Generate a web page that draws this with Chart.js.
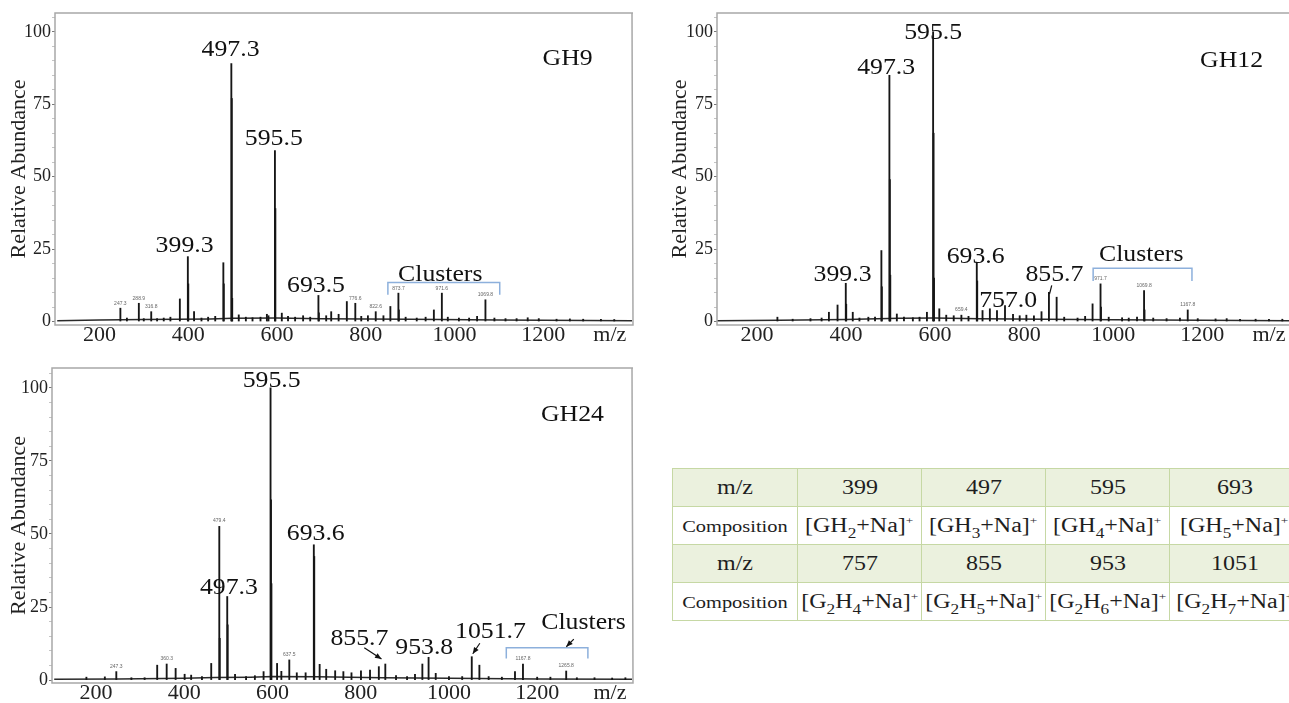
<!DOCTYPE html>
<html>
<head>
<meta charset="utf-8">
<script src="https://cdn.jsdelivr.net/npm/chart.js@4.4.1/dist/chart.umd.min.js"></script>
<style>
  html, body { margin: 0; padding: 0; background: #fff; width: 1289px; height: 703px; overflow: hidden; position: relative; }
  canvas { position: absolute; }
  #gh9  { left: 0; top: 0; }
  #gh12 { left: 661px; top: 0; }
  #gh24 { left: 0; top: 355px; }
  #comp { position: absolute; left: 672px; top: 468px; width: 627px; border-collapse: collapse; table-layout: fixed;
          font-family: 'Liberation Serif', 'Times New Roman', serif; color: #1e1e1e; }
  #comp td { border: 1.5px solid #c6d8a4; height: 37px; padding: 0; text-align: center; font-size: 20px;
             white-space: nowrap; }
  #comp tr.mz td { background: #ebf1de; }
  #comp td span { display: inline-block; transform: scaleX(1.2); }
  #comp td.lab.small span { font-size: 17px; }
  #comp sub { font-size: 0.72em; vertical-align: -0.4em; line-height: 0; }
  #comp sup { font-size: 0.55em; vertical-align: 0.75em; line-height: 0; }
</style>
</head>
<body>
<canvas id="gh9" width="640" height="349"></canvas>
<canvas id="gh12" width="628" height="349"></canvas>
<canvas id="gh24" width="640" height="350"></canvas>
<table id="comp"></table>

<script>
// ------------------------------------------------------------
// data (m/z, relative abundance)
// ------------------------------------------------------------
const X_TICKS = [200, 400, 600, 800, 1000, 1200];
const Y_TICKS = [0, 25, 50, 75, 100];

// GH9
const GH9_MZ = [247.3, 262, 288.9, 300, 316.8, 330, 345, 360, 381.3, 399.3, 400.3, 413.3, 430, 445, 461,
  479.3, 480.3, 497.3, 498.3, 499.3, 514, 530, 545, 563, 577.4, 581, 595.5, 596.5, 611, 625, 641, 659, 675,
  693.5, 694.5, 711, 722.3, 739, 757.5, 776.6, 790, 805, 822.6, 840, 855.6, 873.7, 874.7, 890, 915, 935,
  953.6, 971.6, 985, 1010, 1033, 1051, 1069.8, 1090, 1115, 1140, 1165, 1190, 1230, 1260, 1290, 1330, 1360];
const GH9_INT = [4.6, 1.2, 6.3, 1.0, 3.4, 1.0, 1.2, 1.5, 7.8, 22.4, 13, 3.4, 1.2, 1.5, 1.8,
  20.3, 13, 89, 77, 8, 2.3, 1.5, 1.3, 1.5, 2.5, 2, 59, 39, 2.9, 1.8, 1.5, 2, 1.5,
  9.0, 3, 2, 3.4, 2.5, 6.9, 6.3, 1.8, 2, 3.4, 2, 5.2, 9.8, 4, 1.5, 1.2, 1.5,
  4.0, 9.8, 1.5, 1.2, 1.2, 1.8, 7.5, 1.2, 1, 1, 1.3, 1, 0.8, 0.9, 0.8, 0.8, 0.7];
const GH9_BASE_MZ = [105, 200, 300, 450, 500, 600, 700, 900, 1100, 1400];
const GH9_BASE_INT = [0.3, 0.5, 0.7, 0.9, 1.1, 1.2, 1.0, 0.8, 0.5, 0.3];

// GH12
const GH12_MZ = [245.7, 280, 320, 345, 361.4, 380.8, 399.3, 400.3, 415, 430, 450, 465, 479.3, 480.3,
  497.3, 498.3, 499.3, 514, 530, 550, 565, 581.6, 595.5, 596.5, 597.5, 609.4, 625, 641.8, 659, 675,
  693.6, 694.6, 706.5, 723, 739, 757.0, 775, 790, 805, 822, 839, 855.7, 873, 890, 920, 937, 953.7,
  971.6, 972.6, 990, 1020, 1035, 1053.6, 1069.4, 1070.4, 1090, 1120, 1150, 1167.5, 1190, 1230, 1255,
  1285, 1320, 1350, 1380];
const GH12_INT = [1.5, 0.8, 1, 1.2, 3.2, 5.7, 13.2, 6, 3.2, 1.2, 1.5, 1.5, 24.5, 12,
  85, 49, 16, 2.6, 1.5, 1.3, 1.5, 3.2, 100, 65, 15, 4.4, 2.2, 2, 2.2, 1.8,
  20.4, 14, 3.8, 4.4, 3.8, 5.5, 2.5, 2, 2.2, 2, 3.4, 10.1, 8.4, 1.5, 1.2, 1.8, 6.1,
  13, 5, 1.5, 1.3, 1.2, 1.5, 10.7, 4, 1.2, 1.0, 1.2, 4.0, 1.0, 0.9, 1.0,
  0.8, 0.8, 0.8, 0.8];
const GH12_BASE_MZ = [110, 250, 400, 470, 520, 600, 700, 850, 1000, 1200, 1395];
const GH12_BASE_INT = [0.3, 0.4, 0.7, 1.0, 1.1, 1.2, 1.0, 0.8, 0.6, 0.4, 0.3];

// GH24
const GH24_MZ = [178, 219.8, 245.8, 280, 310, 338.5, 360, 380.3, 400.7, 415.5, 440, 461, 479.3, 480.3,
  497.3, 498.3, 515, 540, 560, 579.7, 595.5, 596.5, 597.5, 610.3, 620, 638, 655, 675, 693.6, 694.6,
  706.8, 721.7, 742, 760.6, 779, 800.5, 821, 841, 855.7, 880, 905, 923, 939.7, 953.8, 970, 1000, 1030,
  1051.7, 1069, 1090, 1120, 1149.7, 1167.8, 1200, 1230, 1265.8, 1290, 1330, 1370, 1400];
const GH24_INT = [1, 1.1, 2.9, 0.8, 0.8, 5.1, 5.5, 4, 2, 1.7, 1.2, 5.7, 52.6, 14.3,
  28.6, 18.9, 2, 1.2, 1.5, 2.9, 100, 61.7, 33, 5.7, 3, 6.9, 2.5, 2.5, 46.3, 42.3,
  5.4, 3.7, 3.2, 2.9, 2.5, 3.2, 3.4, 4.6, 5.5, 1.5, 1.2, 2, 5.5, 7.8, 2.3, 1.2, 1.2,
  8.0, 5.1, 1.2, 1.0, 2.9, 5.5, 1.0, 1.0, 3.1, 0.8, 0.8, 0.7, 0.8];
const GH24_BASE_MZ = [105, 250, 400, 470, 550, 600, 700, 850, 1000, 1200, 1415];
const GH24_BASE_INT = [0.3, 0.4, 0.6, 0.9, 1.0, 1.2, 1.1, 0.8, 0.6, 0.4, 0.3];

// table of assignments
const TABLE_MZ_1 = [399, 497, 595, 693];
const TABLE_COMP_1 = ['GH2', 'GH3', 'GH4', 'GH5'];
const TABLE_MZ_2 = [757, 855, 953, 1051];
const TABLE_COMP_2 = ['G2H4', 'G2H5', 'G2H6', 'G2H7'];

// ------------------------------------------------------------
// plugin: frame, peak labels, brackets and arrows
// ------------------------------------------------------------
const SERIF = "'Liberation Serif', 'Times New Roman', serif";
Chart.defaults.font.family = SERIF;
Chart.defaults.color = '#222';

const spectrumDecor = {
  id: 'spectrumDecor',
  afterDatasetsDraw(chart, args, o) {
    const { ctx, chartArea: a, scales: { x, y } } = chart;
    const px = v => x.getPixelForValue(v);
    const py = v => y.getPixelForValue(v);
    ctx.save();

    // frame (panel at the page edge has its right side cut off)
    ctx.strokeStyle = '#a8a8a8';
    ctx.lineWidth = 1.5;
    ctx.beginPath();
    ctx.moveTo(a.right + 1, a.top);
    ctx.lineTo(a.left, a.top);
    ctx.lineTo(a.left, a.bottom);
    ctx.lineTo(a.right + 1, a.bottom);
    if (!o.openRight) ctx.lineTo(a.right, a.top);
    ctx.stroke();

    ctx.textAlign = 'center';
    ctx.textBaseline = 'middle';
    ctx.fillStyle = '#666';
    ctx.font = "5px 'Liberation Sans'";
    (o.tiny || []).forEach(t => ctx.fillText(t[0], px(t[1]), py(t[2])));

    ctx.fillStyle = '#111';
    ctx.font = '23px ' + SERIF;
    (o.labels || []).forEach(t => {
      ctx.save();
      ctx.translate(px(t[1]), py(t[2]));
      ctx.scale(1.12, 1);
      ctx.fillText(t[0], 0, 0);
      ctx.restore();
    });

    ctx.strokeStyle = '#8db0dc';
    ctx.lineWidth = 1.5;
    (o.brackets || []).forEach(b => {
      ctx.beginPath();
      ctx.moveTo(px(b[0]), py(b[3]));
      ctx.lineTo(px(b[0]), py(b[2]));
      ctx.lineTo(px(b[1]), py(b[2]));
      ctx.lineTo(px(b[1]), py(b[3]));
      ctx.stroke();
    });

    ctx.strokeStyle = '#111';
    ctx.fillStyle = '#111';
    ctx.lineWidth = 1.2;
    (o.arrows || []).forEach(r => {
      const x1 = px(r[0]), y1 = py(r[1]), x2 = px(r[2]), y2 = py(r[3]);
      ctx.beginPath();
      ctx.moveTo(x1, y1);
      ctx.lineTo(x2, y2);
      ctx.stroke();
      if (r[4]) {
        const ang = Math.atan2(y2 - y1, x2 - x1);
        ctx.beginPath();
        ctx.moveTo(x2, y2);
        ctx.lineTo(x2 - 7 * Math.cos(ang - 0.4), y2 - 7 * Math.sin(ang - 0.4));
        ctx.lineTo(x2 - 7 * Math.cos(ang + 0.4), y2 - 7 * Math.sin(ang + 0.4));
        ctx.closePath();
        ctx.fill();
      }
    });
    ctx.restore();
  }
};

// ------------------------------------------------------------
// one spectrum panel
// ------------------------------------------------------------
function renderSpectrum(id, mz, inten, baseMz, baseInt, opt) {
  const ctx = document.getElementById(id).getContext('2d');
  return new Chart(ctx, {
    type: 'bar',
    data: {
      datasets: [
        {
          type: 'bar',
          data: mz.map((m, i) => ({ x: m, y: inten[i] })),
          backgroundColor: '#161616',
          borderWidth: 0,
          barThickness: 1.2
        },
        {
          type: 'line',
          data: baseMz.map((m, i) => ({ x: m, y: baseInt[i] })),
          borderColor: '#2a2a2a',
          borderWidth: 1.5,
          pointRadius: 0,
          tension: 0
        }
      ]
    },
    options: {
      responsive: false,
      animation: false,
      devicePixelRatio: 1,
      layout: { padding: { top: 13, right: opt.padRight, left: 0, bottom: 0 } },
      plugins: {
        legend: { display: false },
        tooltip: { enabled: false },
        spectrumDecor: opt.notes
      },
      scales: {
        x: {
          type: 'linear',
          min: opt.xMin,
          max: opt.xMax,
          offset: false,
          border: { display: false },
          grid: { display: false, drawTicks: false },
          afterBuildTicks: s => { s.ticks = X_TICKS.concat([opt.mzAt]).map(v => ({ value: v })); },
          afterFit: s => { s.height = opt.xHeight; },
          ticks: {
            autoSkip: false,
            maxRotation: 0,
            padding: opt.tickPad,
            color: '#222',
            font: { size: 22 },
            callback: v => (v === opt.mzAt ? 'm/z' : v)
          }
        },
        y: {
          min: opt.yMin,
          max: opt.yMax,
          border: { display: false },
          grid: {
            drawOnChartArea: false,
            tickLength: 3,
            color: c => (Y_TICKS.includes(c.tick.value) ? '#777' : '#c4c4c4')
          },
          afterFit: s => { s.width = opt.yWidth; },
          ticks: {
            stepSize: 5,
            includeBounds: false,
            autoSkip: false,
            padding: 1,
            color: '#222',
            font: { size: 18 },
            callback: v => (Y_TICKS.includes(v) ? v : '')
          },
          title: {
            display: true,
            text: 'Relative Abundance',
            color: '#222',
            font: { size: 22 },
            padding: { top: 6, bottom: 0 }
          }
        }
      }
    },
    plugins: [spectrumDecor]
  });
}

renderSpectrum('gh9', GH9_MZ, GH9_INT, GH9_BASE_MZ, GH9_BASE_INT, {
  xMin: 100, xMax: 1400, yMin: -1.2, yMax: 106.5, padRight: 8, yWidth: 55, xHeight: 24, tickPad: -3, mzAt: 1350,
  notes: {
    labels: [['399.3', 392, 26], ['497.3', 495.6, 93.7], ['595.5', 593, 63], ['693.5', 688, 12.4],
             ['GH9', 1255, 90.6], ['Clusters', 968, 16]],
    tiny: [['247.3', 247.3, 6.3], ['288.9', 288.9, 8.0], ['316.8', 316.8, 5.2], ['776.6', 776.6, 8.0],
           ['822.6', 822.6, 5.0], ['873.7', 873.7, 11.5], ['971.6', 971.6, 11.5], ['1069.8', 1069.8, 9.2]],
    brackets: [[850, 1102, 13.5, 9.2]]
  }
});

renderSpectrum('gh12', GH12_MZ, GH12_INT, GH12_BASE_MZ, GH12_BASE_INT, {
  xMin: 110, xMax: 1395, yMin: -1.2, yMax: 106.5, padRight: 0, yWidth: 56, xHeight: 24, tickPad: -3, mzAt: 1350,
  notes: {
    openRight: true,
    labels: [['595.5', 595.5, 99.6], ['497.3', 490, 87.6], ['399.3', 392, 16], ['693.6', 691, 22.4],
             ['757.0', 764, 7.2], ['855.7', 868, 16], ['GH12', 1266, 90], ['Clusters', 1063, 23]],
    tiny: [['659.4', 659, 4], ['971.7', 971.6, 14.8], ['1069.8', 1069.4, 12.5], ['1167.8', 1167.5, 5.8]],
    brackets: [[955, 1177, 18.4, 14]],
    arrows: [[862, 12.5, 857, 9.5, false]]
  }
});

renderSpectrum('gh24', GH24_MZ, GH24_INT, GH24_BASE_MZ, GH24_BASE_INT, {
  xMin: 100, xMax: 1415, yMin: -1.0, yMax: 106.8, padRight: 8, yWidth: 52, xHeight: 22, tickPad: -3, mzAt: 1365,
  notes: {
    labels: [['595.5', 598, 102.3], ['497.3', 501, 31.4], ['693.6', 698, 50], ['855.7', 797, 14],
             ['953.8', 944, 10.9], ['1051.7', 1094, 16.6], ['Clusters', 1305, 19.4], ['GH24', 1280, 90.9]],
    tiny: [['247.3', 245.8, 4.6], ['360.3', 360, 7.2], ['479.4', 479.3, 54.4], ['637.5', 638, 8.6],
           ['1167.8', 1167.8, 7.2], ['1265.8', 1265.8, 4.8]],
    brackets: [[1130, 1315, 11.1, 7.4]],
    arrows: [[808, 11.1, 847, 7.2, true], [1070, 12.6, 1054, 9, true], [1283, 14, 1266, 11.4, true]]
  }
});

// ------------------------------------------------------------
// composition table
// ------------------------------------------------------------
function formula(f) {
  return '[' + f.replace(/(\d)/g, '<sub>$1</sub>') + '+Na]<sup>+</sup>';
}
function buildTable() {
  const t = document.getElementById('comp');
  let html = '<colgroup><col style="width:125px">' + '<col style="width:124px">'.repeat(3) +
    '<col style="width:130px"></colgroup>';
  [[TABLE_MZ_1, TABLE_COMP_1], [TABLE_MZ_2, TABLE_COMP_2]].forEach(pair => {
    html += '<tr class="mz"><td class="lab"><span>m/z</span></td>' +
      pair[0].map(v => '<td><span>' + v + '</span></td>').join('') + '</tr>';
    html += '<tr><td class="lab small"><span>Composition</span></td>' +
      pair[1].map(f => '<td><span>' + formula(f) + '</span></td>').join('') + '</tr>';
  });
  t.innerHTML = html;
}
buildTable();
</script>
</body>
</html>
